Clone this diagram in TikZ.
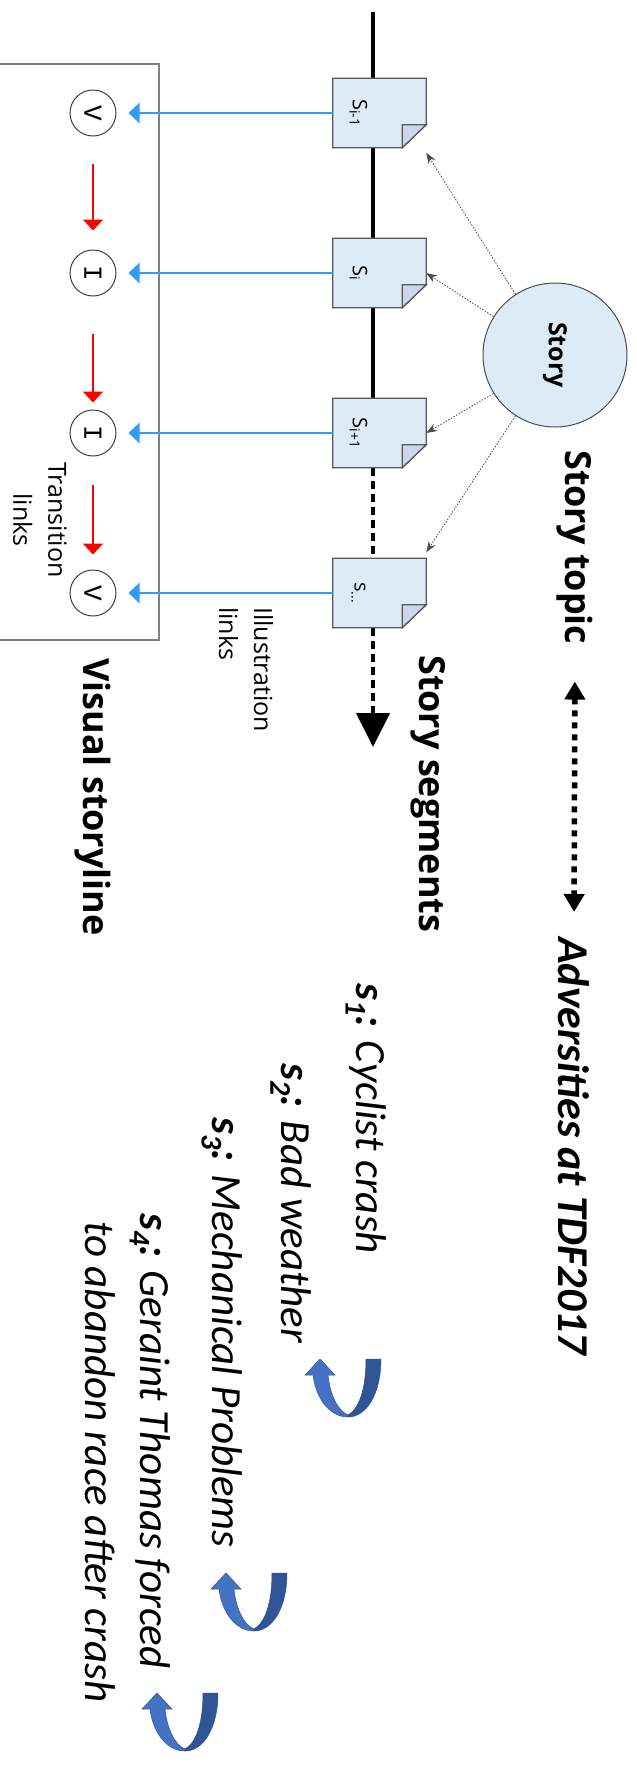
\documentclass[tikz,border=0pt]{standalone}
\usepackage{fontspec}
\usepackage{graphicx}
\setmainfont{Open Sans}
\newfontfamily\notefont{Carlito}
\newfontfamily\letterfont{Liberation Mono}
\usetikzlibrary{arrows.meta}
\definecolor{segfill}{RGB}{221,235,247}
\definecolor{foldfill}{RGB}{200,216,234}
\definecolor{illblue}{RGB}{51,153,255}
\definecolor{framegray}{RGB}{128,128,128}
\definecolor{turnlight}{RGB}{68,114,196}
\definecolor{turndark}{RGB}{47,85,151}
\definecolor{turnline}{RGB}{47,82,143}

\newcommand{\uturnarrow}[2]{%
  \begin{scope}[shift={(#1,#2)},draw=turnline,line width=0.5pt]
    \filldraw[fill=turnlight] (0,16) -- (15,0) -- (30,16) -- (23,16) .. controls (25,36) and (33,52) .. (43,56) -- (43,58) .. controls (25,58) and (11,40) .. (8,16) -- cycle;
    \filldraw[fill=turndark] (61,0) -- (76,0) .. controls (76,34) and (62,58) .. (43,58) -- (43,56) .. controls (54,50) and (61,30) .. (61,0) -- cycle;
  \end{scope}}

\begin{document}
\begin{tikzpicture}[x=1pt,y=-1pt,
    titletext/.style={rotate=-90,anchor=west,inner sep=0pt,font=\fontsize{36}{42}\selectfont\bfseries},
    smalltext/.style={rotate=-90,inner sep=0pt,font=\fontsize{25}{35}\selectfont},
    notetext/.style={rotate=-90,anchor=west,inner sep=0pt,font=\notefont\itshape\fontsize{43}{50}\selectfont},
    segbox/.style={minimum width=93pt,minimum height=69pt,inner sep=0pt},
    seglabel/.style={rotate=-90,inner sep=0pt,font=\fontsize{20}{24}\selectfont},
    segshape/.style={draw=black!65,line width=1.3pt,fill=segfill},
    visnode/.style={circle,draw=black!75,line width=1pt,fill=white,minimum size=46pt,inner sep=0pt,font=\letterfont\fontsize{26}{26}\selectfont},
    illink/.style={illblue,line width=2.4pt,-{Triangle[width=20pt,length=11pt]},shorten >=12pt},
    translink/.style={red,line width=2pt,-{Triangle[width=20pt,length=11pt]}},
    topiclink/.style={black!70,line width=0.8pt,dash pattern=on 1.5pt off 1.5pt,-{Stealth[length=11pt,width=8pt]}},
    timeline/.style={line width=4pt},
  ]
  \useasboundingbox (0,0) rectangle (637,1765);
  \draw[framegray,line width=1.5pt] (-5,64) -- (159,64) -- (159,640) -- (-5,640);

  \coordinate (top) at (373,12);
  \coordinate (segend) at (373,747);
  \foreach \n/\y in {1/113,2/273,3/433,4/593}
    \node[segbox] (b\n) at (379.5,\y) {};
  \draw[timeline] (top) -- (top |- b3.north);
  \draw[timeline,dash pattern=on 8pt off 5pt] (top |- b3.south) -- (top |- b4.north);
  \draw[timeline,dash pattern=on 8pt off 5pt,-{Triangle[width=33pt,length=34pt]}] (top |- b4.south) -- (segend);
  \foreach \n in {1,...,4}{
    \draw[segshape] (b\n.north west) -- (b\n.north east) -- ([yshift=23pt]b\n.south east) -- ([xshift=-24pt]b\n.south east) -- (b\n.south west) -- cycle;
    \draw[segshape,fill=foldfill] ([yshift=23pt]b\n.south east) -- ([xshift=-24pt,yshift=23pt]b\n.south east) -- ([xshift=-24pt]b\n.south east) -- cycle;
  }
  \node[seglabel] at ([xshift=-21pt]b1.center) {S\textsubscript{i-1}};
  \node[seglabel] at ([xshift=-21pt]b2.center) {S\textsubscript{i}};
  \node[seglabel] at ([xshift=-21pt]b3.center) {S\textsubscript{i+1}};
  \node[seglabel] at ([xshift=-21pt]b4.center) {s\textsubscript{...}};

  \node[circle,draw=black!70,line width=1pt,fill=segfill,minimum size=144pt,inner sep=0pt,font=\fontsize{25}{30}\selectfont\bfseries] (story) at (555,355) {\rotatebox{-90}{Story}};
  \draw[topiclink] (story.123) -- ([yshift=-5pt]b1.south east);
  \draw[topiclink] (story.148) -- (b2.east);
  \draw[topiclink] (story.212) -- (b3.east);
  \draw[topiclink] (story.237) -- ([yshift=6pt]b4.north east);

  \foreach \n/\y/\l in {1/113/V,2/273/I,3/433/I,4/593/V}{
    \node[visnode] (c\n) at (93,\y) {\rotatebox{-90}{\l}};
    \draw[illink] (b\n.west) -- (c\n);
  }
  \draw[translink,shorten <=27pt,shorten >=19pt] (c1) -- (c2);
  \draw[translink,shorten <=37pt,shorten >=7pt] (c2) -- (c3);
  \draw[translink,shorten <=28pt,shorten >=15pt] (c3) -- (c4);

  \node[smalltext,align=center] (translabel) at (40,520) {Transition\\links};
  \node[smalltext,align=left,anchor=west] (illlabel) at (246,607) {Illustration\\links};
  \node[titletext] (topiclabel) at (575,450) {Story topic};
  \node[titletext] (segtitle) at (428,655) {Story segments};
  \node[titletext] (vistitle) at (93,658) {Visual storyline};

  \node[notetext,font=\notefont\itshape\bfseries\fontsize{44}{50}\selectfont] (topic) at (574,937) {Adversities at TDF2017};
  \draw[line width=5.5pt,dash pattern=on 6pt off 6pt,{Triangle[width=20pt,length=18pt]}-{Triangle[width=20pt,length=18pt]},shorten <=37pt,shorten >=25pt] (topiclabel.east) -- (topic.west);

  \node[notetext] (n1) at (366,983) {\textbf{s\textsubscript{1}:} Cyclist crash};
  \node[notetext] (n2) at (291,1063) {\textbf{s\textsubscript{2}:} Bad weather};
  \node[notetext] (n3) at (222,1117) {\textbf{s\textsubscript{3}:} Mechanical Problems};
  \node[notetext] (n4) at (150,1213) {\textbf{s\textsubscript{4}:} Geraint Thomas forced};
  \node[notetext] (n5) at (100,1221) {to abandon race after crash};

  \uturnarrow{305}{1359}
  \uturnarrow{211}{1573}
  \uturnarrow{142}{1693}
\end{tikzpicture}
\end{document}
